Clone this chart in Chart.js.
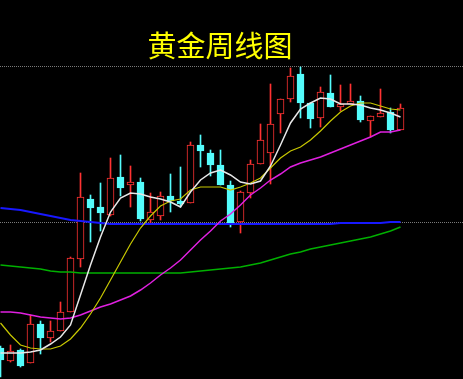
<!DOCTYPE html>
<html>
<head>
<meta charset="utf-8">
<script src="https://cdn.jsdelivr.net/npm/chart.js@4"></script>
<style>
  html, body { margin: 0; padding: 0; background: #000; }
  #wrap { width: 463px; height: 379px; }
</style>
</head>
<body>
<div id="wrap"><canvas id="kline" width="463" height="379"></canvas></div>
<script>
const chartTitle = '黄金周线图';

// --- weekly candles (price) ---
const openP  = [1071,1058,1069,1056,1095,1081,1088,1107,1160,1220,1212,1204,1242,1234,1237,1199,1203,1223,1218,1216,1274,1266,1254,1234,1197,1226,1255,1266,1305,1320,1345,1316,1301,1326,1312,1315,1318,1298,1302,1307,1289];
const closeP = [1059,1068,1053,1095,1081,1088,1107,1161,1222,1211,1206,1241,1231,1237,1200,1207,1223,1218,1215,1274,1268,1254,1234,1196,1227,1255,1279,1295,1320,1343,1316,1300,1327,1312,1315,1318,1299,1303,1306,1289,1311];
const highP  = [1073,1074,1070,1104,1098,1098,1117,1162,1246,1224,1236,1261,1264,1253,1241,1226,1227,1245,1252,1277,1284,1269,1269,1238,1228,1259,1295,1335,1320,1351,1352,1316,1332,1344,1334,1335,1323,1303,1330,1311,1315];
const lowP   = [1042,1057,1052,1056,1065,1077,1088,1107,1152,1177,1188,1203,1223,1212,1198,1196,1199,1207,1212,1216,1252,1243,1234,1192,1186,1221,1255,1235,1286,1317,1301,1291,1292,1312,1308,1315,1297,1282,1302,1286,1289];

// --- moving averages ---
const ma5  = [1066,1066,1066,1067,1069,1075,1082,1094,1124,1154,1182,1207,1221,1226,1225,1222,1220,1217,1212,1227,1239,1246,1249,1244,1237,1235,1238,1253,1274,1296,1310,1316,1321,1320,1315,1315,1314,1311,1309,1306,1302];
const ma10 = [1096,1084,1074,1071,1070,1070,1073,1080,1091,1105,1121,1139,1157,1175,1191,1203,1213,1218,1220,1229,1232,1232,1232,1229,1232,1236,1241,1251,1261,1268,1272,1279,1288,1298,1307,1313,1316,1316,1313,1310,1309];
const ma20 = [1107,1107,1106,1104,1102,1101,1100,1101,1104,1108,1112,1115,1119,1123,1129,1136,1144,1151,1159,1169,1179,1188,1198,1205,1214,1224,1231,1239,1245,1252,1256,1259,1262,1266,1270,1274,1278,1282,1287,1287,1289];
const ma60 = [1154,1153,1152,1151,1150,1148,1147,1147,1146,1146,1146,1146,1146,1146,1146,1146,1146,1146,1146,1147,1148,1149,1150,1151,1152,1154,1156,1159,1162,1165,1167,1170,1172,1174,1176,1178,1180,1182,1185,1188,1192];
const ma120 = [1211,1210,1209,1207,1205,1203,1201,1199,1198,1197,1196,1195,1195,1195,1195,1195,1195,1195,1195,1195,1195,1195,1195,1195,1195,1195,1195,1195,1195,1195,1195,1195,1195,1195,1196,1196,1196,1196,1196,1197,1197];

// dotted reference levels
const levels = [1197, 1353];

const weeks = openP.map((_, i) => i);
const RED = '#ff3232';
const CYAN = '#54fcfc';
const isUp = weeks.map(i => closeP[i] >= openP[i]);

const bodies = weeks.map(i => ({ x: i, y: [openP[i], closeP[i]] }));
const wicks = weeks.map(i => ({ x: i, y: [lowP[i], highP[i]] }));
const maLine = (arr) => weeks.map(i => ({ x: i, y: arr[i] }));

function lineSet(label, arr, color, width) {
    return {
        type: 'line',
        label: label,
        data: maLine(arr),
        borderColor: color,
        borderWidth: width,
        pointRadius: 0,
        tension: 0,
        order: 0
    };
}

const titlePlugin = {
    id: 'kTitle',
    afterDraw(chart) {
        const c = chart.ctx;
        c.save();
        c.font = '29px "Noto Sans CJK SC"';
        c.fillStyle = '#ffff00';
        c.textAlign = 'center';
        c.textBaseline = 'middle';
        c.fillText(chartTitle, 220, 46);
        c.restore();
    }
};

new Chart(document.getElementById('kline'), {
    type: 'bar',
    data: {
        datasets: [
            lineSet('MA5', ma5, '#e8e8e8', 1.5),
            lineSet('MA10', ma10, '#c8c800', 1.2),
            lineSet('MA20', ma20, '#e020e0', 1.5),
            lineSet('MA60', ma60, '#00b000', 1.5),
            lineSet('MA120', ma120, '#1818ff', 2),
            {
                label: 'body',
                data: bodies,
                grouped: false,
                barThickness: 7,
                backgroundColor: isUp.map(u => u ? '#000000' : CYAN),
                borderColor: isUp.map(u => u ? RED : CYAN),
                borderWidth: 1,
                borderSkipped: false,
                order: 1
            },
            {
                label: 'wick',
                data: wicks,
                grouped: false,
                barThickness: 1,
                backgroundColor: isUp.map(u => u ? RED : CYAN),
                borderWidth: 0,
                borderSkipped: false,
                order: 2
            }
        ]
    },
    options: {
        responsive: false,
        animation: false,
        devicePixelRatio: 1,
        layout: { padding: 0 },
        plugins: {
            legend: { display: false },
            tooltip: { enabled: false },
            title: { display: false }
        },
        scales: {
            x: {
                type: 'linear',
                min: -0.05,
                max: 46.25,
                offset: false,
                display: false
            },
            y: {
                min: 1040,
                max: 1419,
                afterBuildTicks: (axis) => { axis.ticks = levels.map(v => ({ value: v })); },
                ticks: { display: false },
                grid: { color: '#7a7a7a', lineWidth: 1, drawTicks: false },
                border: { display: false, dash: [1, 1] }
            }
        }
    },
    plugins: [titlePlugin]
});
</script>
</body>
</html>
